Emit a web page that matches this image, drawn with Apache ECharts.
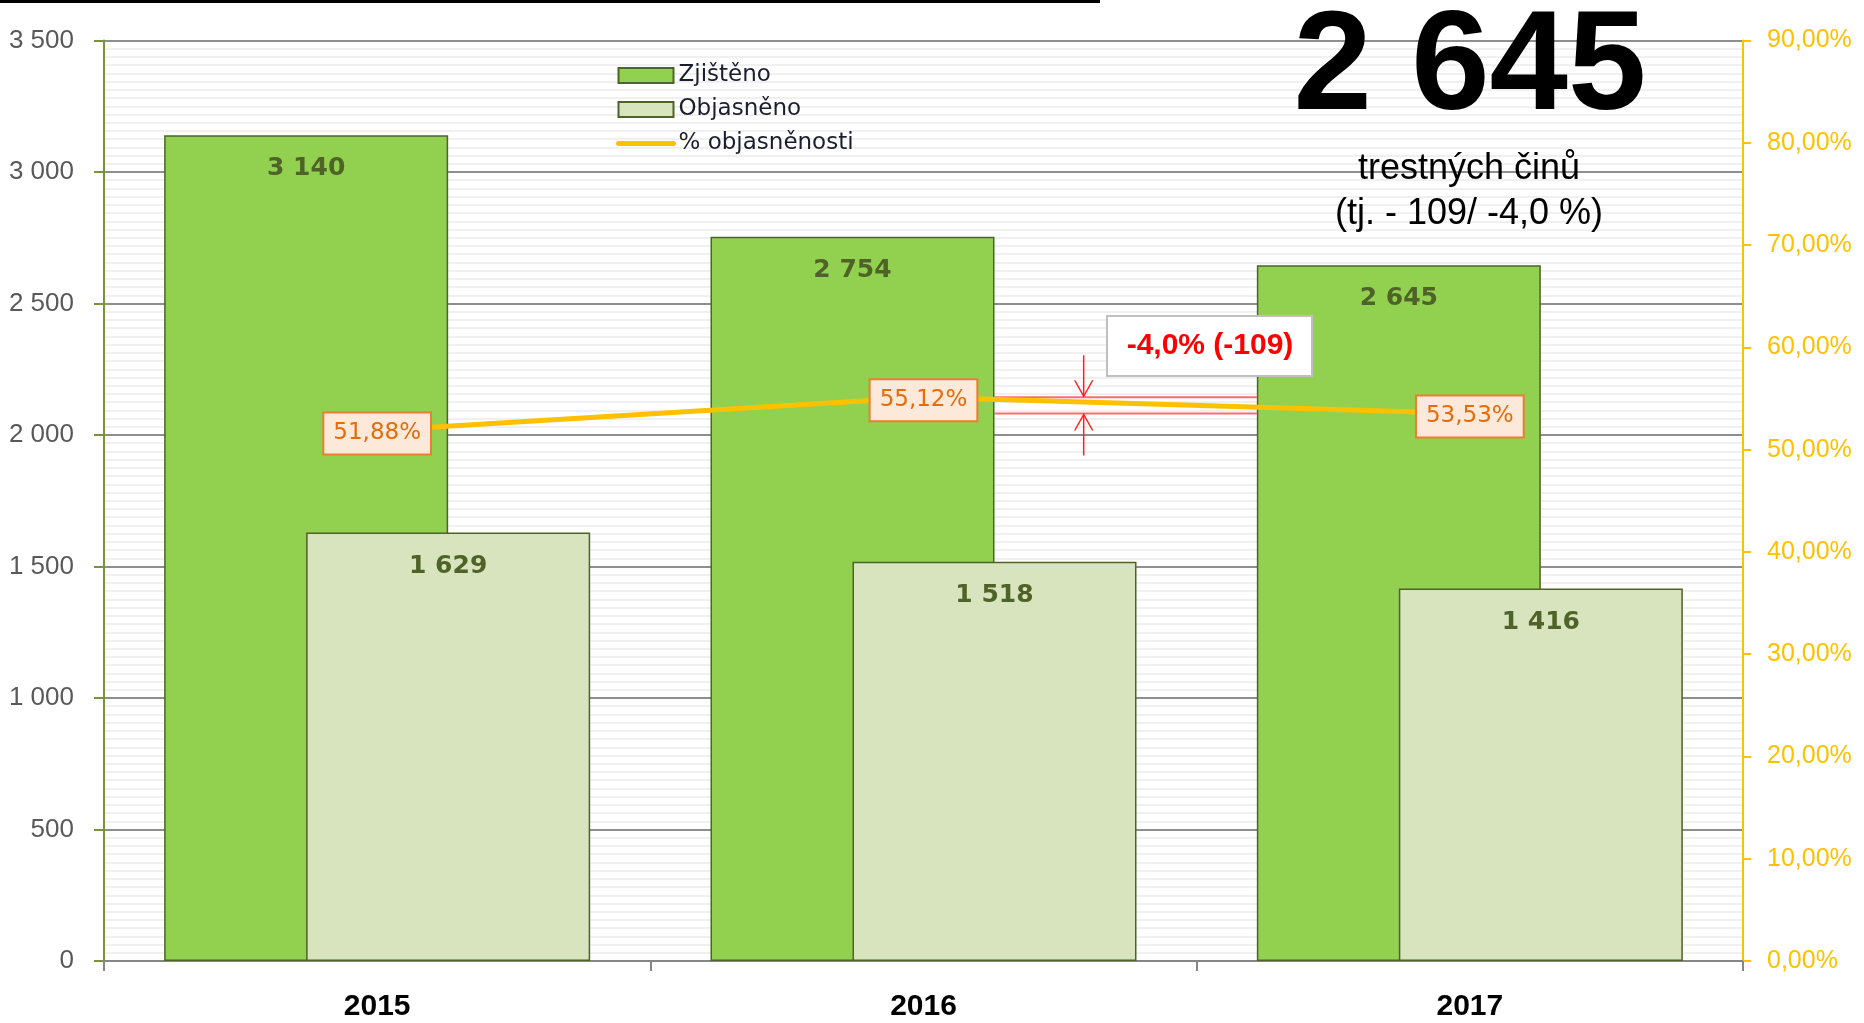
<!DOCTYPE html>
<html>
<head>
<meta charset="utf-8">
<script src="https://cdn.jsdelivr.net/npm/echarts@6/dist/echarts.min.js"></script>
<style>
  html, body { margin: 0; padding: 0; background: #fff; }
  #chart { width: 1864px; height: 1023px; }
</style>
</head>
<body>
<div id="chart"></div>
<script>
// data
var categories = ['2015', '2016', '2017'];
var zjisteno = [3140, 2754, 2645];
var objasneno = [1629, 1518, 1416];
var objasnenost = [51.88, 55.12, 53.53];
var seriesNames = ['Zjištěno', 'Objasněno', '% objasněnosti'];

var BAR_W = 284;

function thousands(v) {
    return String(v).replace(/\B(?=(\d{3})+(?!\d))/g, ' ');
}
function pct(v) {
    return v.toFixed(2).replace('.', ',') + '%';
}

var last = zjisteno[zjisteno.length - 1];
var prev = zjisteno[zjisteno.length - 2];
var diff = last - prev;
var diffPct = (diff / prev * 100).toFixed(1).replace('.', ',');

var myChart = echarts.init(document.getElementById('chart'));
var option = {
    animation: false,
    backgroundColor: '#fff',
    grid: { left: 104, right: 121, top: 40.5, bottom: 62 },
    legend: {
        data: [
            { name: seriesNames[0], icon: 'rect' },
            { name: seriesNames[1], icon: 'rect' },
            { name: seriesNames[2], itemStyle: { opacity: 0 }, lineStyle: { width: 5, cap: 'round' } }
        ],
        orient: 'vertical',
        left: 611,
        top: 59,
        itemWidth: 55,
        itemHeight: 15,
        itemGap: 11,
        textStyle: { fontFamily: 'DejaVu Sans', fontSize: 23, color: '#1c1c2e' }
    },
    xAxis: {
        type: 'category',
        data: categories,
        axisLine: { lineStyle: { color: '#868686', width: 2 } },
        axisTick: { show: true, length: 10, lineStyle: { color: '#868686', width: 2 } },
        axisLabel: {
            margin: 31,
            color: '#000',
            fontFamily: 'Liberation Sans',
            fontWeight: 'bold',
            fontSize: 30
        }
    },
    yAxis: [{
        type: 'value',
        min: 0,
        max: 3500,
        interval: 500,
        axisLine: { show: true, lineStyle: { color: '#77933C', width: 2 } },
        axisTick: { show: true, length: 10, lineStyle: { color: '#77933C', width: 2 } },
        axisLabel: {
            margin: 30,
            color: '#595959',
            fontFamily: 'Liberation Sans',
            fontSize: 26,
            formatter: thousands
        },
        splitLine: { lineStyle: { color: '#8e8e8e', width: 2 } },
        minorTick: { show: false, splitNumber: 16 },
        minorSplitLine: { show: true, lineStyle: { color: '#f0f0f0', width: 2 } }
    }, {
        type: 'value',
        position: 'right',
        min: 0,
        max: 90,
        interval: 10,
        axisLine: { show: true, lineStyle: { color: '#FFC000', width: 2 } },
        axisTick: { show: true, length: 8, lineStyle: { color: '#FFC000', width: 2 } },
        axisLabel: {
            margin: 24,
            color: '#FFC000',
            fontFamily: 'Liberation Sans',
            fontSize: 25,
            formatter: pct
        },
        splitLine: { show: false }
    }],
    series: [{
        name: seriesNames[0],
        type: 'bar',
        data: zjisteno,
        barWidth: BAR_W,
        barGap: '-50%',
        itemStyle: { color: '#92D050', borderColor: '#4F6228', borderWidth: 1.5 },
        label: {
            show: true,
            position: 'insideTop',
            distance: 21,
            color: '#4F6228',
            fontFamily: 'DejaVu Sans',
            fontWeight: 'bold',
            fontSize: 25,
            formatter: function (p) { return thousands(p.value); }
        }
    }, {
        name: seriesNames[1],
        type: 'bar',
        data: objasneno,
        barWidth: BAR_W,
        barGap: '-50%',
        itemStyle: { color: '#D7E4BD', borderColor: '#4F6228', borderWidth: 1.5 },
        label: {
            show: true,
            position: 'insideTop',
            distance: 21,
            color: '#4F6228',
            fontFamily: 'DejaVu Sans',
            fontWeight: 'bold',
            fontSize: 25,
            formatter: function (p) { return thousands(p.value); }
        }
    }, {
        name: seriesNames[2],
        type: 'line',
        yAxisIndex: 1,
        data: objasnenost,
        z: 4,
        symbol: 'circle',
        symbolSize: 1,
        color: '#FFC000',
        lineStyle: { color: '#FFC000', width: 5 },
        label: {
            show: true,
            position: 'inside',
            offset: [0, 3],
            backgroundColor: '#FDE9D9',
            borderColor: '#ED7D31',
            borderWidth: 2,
            padding: [10, 9, 7, 9],
            color: '#E46C0A',
            fontFamily: 'DejaVu Sans',
            fontSize: 23,
            formatter: function (p) { return pct(p.value); }
        }
    }]
};
myChart.setOption(option);

// annotation drawn from the scales
var c1 = myChart.convertToPixel({ xAxisIndex: 0 }, categories[1]);
var c2 = myChart.convertToPixel({ xAxisIndex: 0 }, categories[2]);
var yA = myChart.convertToPixel({ yAxisIndex: 1 }, objasnenost[1]);
var yB = myChart.convertToPixel({ yAxisIndex: 1 }, objasnenost[2]);
var lx1 = c1 + BAR_W * 0.25;      // right edge of green 2016 bar
var lx2 = c2 - BAR_W * 0.75;      // left edge of green 2017 bar
var ax = lx1 + (lx2 - lx1) * 0.34;
var red = '#FF2020';

myChart.setOption({
    graphic: [
        { type: 'rect', shape: { x: 0, y: 0, width: 1100, height: 3 }, style: { fill: '#000' } },
        { type: 'text', x: 1470, y: 70, style: {
            text: thousands(last), font: 'bold 141px "Liberation Sans"', fill: '#000',
            align: 'center', verticalAlign: 'middle' } },
        { type: 'text', x: 1469, y: 169, style: {
            text: 'trestných činů', font: '36px "Liberation Sans"', fill: '#000',
            align: 'center', verticalAlign: 'middle' } },
        { type: 'text', x: 1469, y: 214, style: {
            text: '(tj. - ' + Math.abs(diff) + '/ ' + diffPct + ' %)', font: '36px "Liberation Sans"', fill: '#000',
            align: 'center', verticalAlign: 'middle' } },
        { type: 'line', z: 1, shape: { x1: lx1, y1: yA, x2: lx2, y2: yA },
          style: { stroke: 'rgba(255,70,70,0.8)', lineWidth: 2 } },
        { type: 'line', z: 1, shape: { x1: lx1, y1: yB, x2: lx2, y2: yB },
          style: { stroke: 'rgba(255,70,70,0.8)', lineWidth: 2 } },
        { type: 'line', z: 10, shape: { x1: ax, y1: yA - 42, x2: ax, y2: yA - 1 },
          style: { stroke: red, lineWidth: 1.5 } },
        { type: 'polyline', z: 10, shape: { points: [[ax - 9, yA - 17], [ax, yA - 1], [ax + 9, yA - 17]] },
          style: { stroke: red, lineWidth: 1.5, fill: null } },
        { type: 'line', z: 10, shape: { x1: ax, y1: yB + 42, x2: ax, y2: yB + 1 },
          style: { stroke: red, lineWidth: 1.5 } },
        { type: 'polyline', z: 10, shape: { points: [[ax - 9, yB + 17], [ax, yB + 1], [ax + 9, yB + 17]] },
          style: { stroke: red, lineWidth: 1.5, fill: null } },
        { type: 'rect', z: 10, shape: { x: 1107, y: 316, width: 205, height: 60 },
          style: { fill: '#fff', stroke: '#c0c0c0', lineWidth: 2 } },
        { type: 'text', z: 11, x: 1210, y: 346, style: {
            text: diffPct + '% (' + diff + ')', font: 'bold 30px "Liberation Sans"', fill: '#FF0000',
            align: 'center', verticalAlign: 'middle' } }
    ]
});
</script>
</body>
</html>
